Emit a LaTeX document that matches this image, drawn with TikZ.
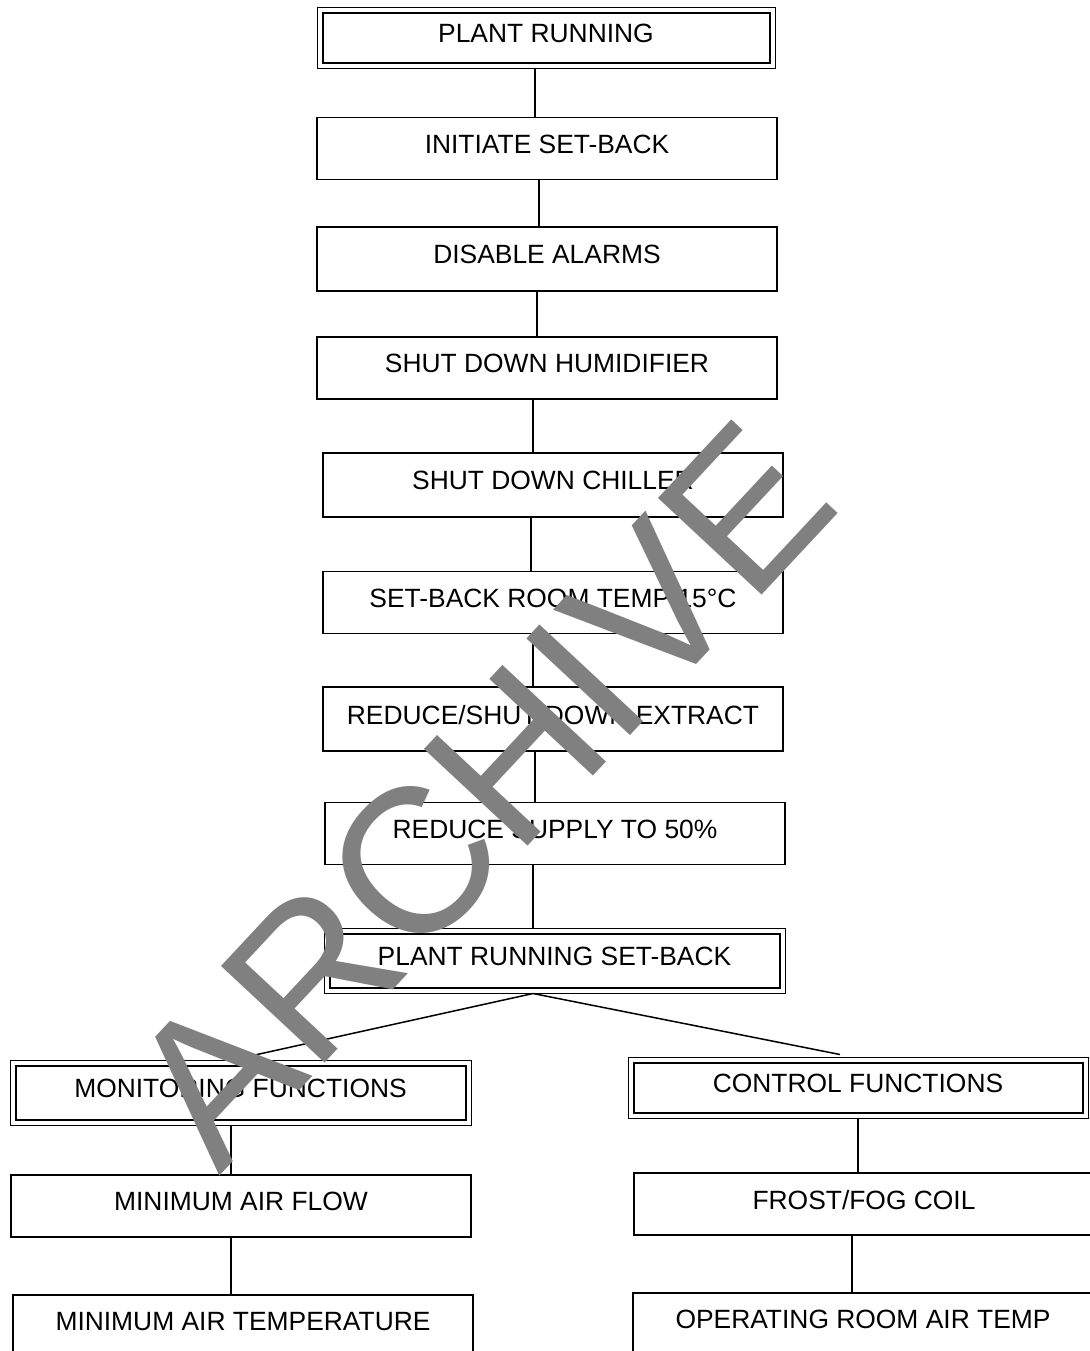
\documentclass[tikz,border=0pt]{standalone}
\usepackage{fontspec}
\setmainfont{Liberation Sans}
\usetikzlibrary{positioning}
\definecolor{wmgray}{gray}{0.5}

\begin{document}
\begin{tikzpicture}[x=0.5pt,y=-0.5pt,
  box/.style={draw,line width=0.9pt,minimum width=230pt,minimum height=31pt,inner sep=0pt,
    text depth=4.5pt,font=\fontsize{13.2}{15}\selectfont},
  dbox/.style={box,line width=0.5pt},
  link/.style={line width=0.75pt}]
\useasboundingbox (0,0) rectangle (1090,1351);
% main chain
\node[dbox,minimum width=229pt,minimum height=30.5pt] (pr) at (546,37.5) {PLANT RUNNING};
\node[box] (isb) at (547,148.5) {INITIATE SET-BACK};
\node[box,minimum height=32pt] (da) at (547,259) {DISABLE ALARMS};
\node[box] (sdh) at (547,368) {SHUT DOWN HUMIDIFIER};
\node[box,minimum height=32pt] (sdc) at (553,485) {SHUT DOWN CHILLER};
\node[box] (sbrt) at (553,602.5) {SET-BACK ROOM TEMP 15°C};
\node[box,minimum height=32pt] (rse) at (553,719) {REDUCE/SHUT DOWN EXTRACT};
\node[box] (rs) at (555,833.5) {REDUCE SUPPLY TO 50\%};
\node[dbox,minimum width=230.5pt,minimum height=32.5pt] (prsb) at (554.5,960.5) {PLANT RUNNING SET-BACK};
% two branches
\node[dbox,minimum width=230.5pt,minimum height=32.5pt] (mon) at (240.5,1092.5) {MONITORING FUNCTIONS};
\node[box] (maf) at (241,1206) {MINIMUM AIR FLOW};
\node[box] (mat) at (243,1326) {MINIMUM AIR TEMPERATURE};
\node[dbox,minimum height=30.5pt] (ctl) at (858,1087.5) {CONTROL FUNCTIONS};
\node[box] (ffc) at (864,1204) {FROST/FOG COIL};
\node[box] (ort) at (863,1324) {OPERATING ROOM AIR TEMP};
\foreach \n in {pr,prsb,mon,ctl}
  \draw[line width=1pt] ([xshift=3pt,yshift=-3pt]\n.north west) rectangle ([xshift=-3pt,yshift=3pt]\n.south east);
\draw[link] (pr.south -| 535,0) -- (isb.north -| 535,0);
\draw[link] (isb.south -| 539,0) -- (da.north -| 539,0);
\draw[link] (da.south -| 537,0) -- (sdh.north -| 537,0);
\draw[link] (sdh.south -| 533,0) -- (sdc.north -| 533,0);
\draw[link] (sdc.south -| 531,0) -- (sbrt.north -| 531,0);
\draw[link] (sbrt.south -| 533,0) -- (rse.north -| 533,0);
\draw[link] (rse.south -| 535,0) -- (rs.north -| 535,0);
\draw[link] (rs.south -| 533,0) -- (prsb.north -| 533,0);
\draw[link] (prsb.south -| 533,0) -- ([xshift=-3pt]mon.north);
\draw[link] (prsb.south -| 533,0) -- ([xshift=-9pt,yshift=1pt]ctl.north);
\draw[link] (mon.south -| 231,0) -- (maf.north -| 231,0);
\draw[link] (maf.south -| 231,0) -- (mat.north -| 231,0);
\draw[link] (ctl.south -| 858,0) -- (ffc.north -| 858,0);
\draw[link] (ffc.south -| 852,0) -- (ort.north -| 852,0);
% watermark
\node[text=wmgray,rotate=47,font=\fontsize{103}{103}\selectfont] (wm) at (480,793) {ARCHIVE};
\end{tikzpicture}
\end{document}
